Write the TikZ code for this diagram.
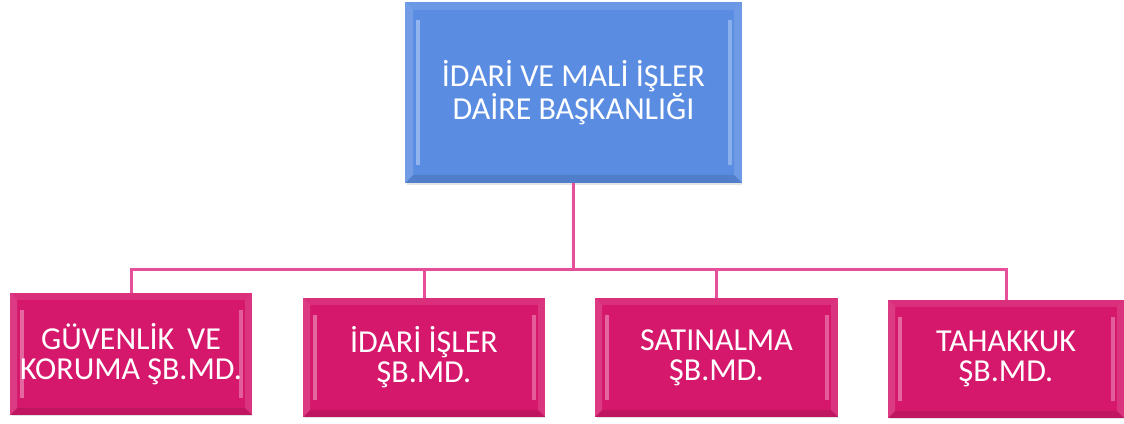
\documentclass[tikz,border=0pt]{standalone}
\usepackage{fontspec}
\setmainfont{Carlito}
\usetikzlibrary{calc}
\definecolor{topblue}{HTML}{5A8DE2}
\definecolor{boxpink}{HTML}{D6186D}
\definecolor{linepink}{HTML}{E84F9A}
\tikzset{
  bev/.style={
    path picture={
      \coordinate (nw) at (path picture bounding box.north west);
      \coordinate (se) at (path picture bounding box.south east);
      \coordinate (ne) at (path picture bounding box.north east);
      \coordinate (sw) at (path picture bounding box.south west);
      \fill[white,opacity=0.10] (nw) -- (ne) -- ($(ne)+(-#1,-#1)$) -- ($(nw)+(#1,-#1)$) -- cycle;
      \fill[black,opacity=0.10] (sw) -- (se) -- ($(se)+(-#1,#1)$) -- ($(sw)+(#1,#1)$) -- cycle;
      \fill[white,opacity=0.15] (nw) -- (sw) -- ($(sw)+(#1,#1)$) -- ($(nw)+(#1,-#1)$) -- cycle;
      \fill[white,opacity=0.12] (ne) -- (se) -- ($(se)+(-#1,#1)$) -- ($(ne)+(-#1,-#1)$) -- cycle;
      \fill[white,opacity=0.35] ($(nw)+(#1+3pt,-#1-10pt)$) rectangle ($(sw)+(#1+7pt,#1+10pt)$);
      \fill[white,opacity=0.30] ($(ne)+(-#1-6pt,-#1-10pt)$) rectangle ($(se)+(-#1-2pt,#1+10pt)$);
    }},
  boxbase/.style={draw=none, inner sep=0pt, text=white, align=center},
  topbox/.style={boxbase, fill=topblue, bev=8pt, minimum width=337pt, minimum height=181pt,
    font=\fontsize{32pt}{30pt}\selectfont},
  subbox/.style={boxbase, fill=boxpink, bev=7pt, minimum height=119pt,
    font=\fontsize{32pt}{30pt}\selectfont},
  conn/.style={draw=linepink, line width=3pt},
  shade/.style={fill=black!35, opacity=0.30}
}
\begin{document}
\begin{tikzpicture}[x=1pt,y=1pt]
\useasboundingbox[fill=white] (0,0) rectangle (1124,423);
% shadows
\fill[shade] (407,238) rectangle (742,242);
\fill[shade] (12,7) rectangle (252,10);
\fill[shade] (305,5) rectangle (545,8);
\fill[shade] (597,5) rectangle (838,8);
\fill[shade] (890,4) rectangle (1124,7);
\coordinate (bus) at (573,153);
\node[topbox] (top) at (573.5,330.5) {İDARİ VE MALİ İŞLER\\DAİRE BAŞKANLIĞI};
\node[subbox, minimum width=242pt, minimum height=122pt] (b1) at (131,69) {GÜVENLİK\hspace{0.4em}VE\\KORUMA ŞB.MD.};
\node[subbox, minimum width=242pt] (b2) at (424,65.5) {İDARİ İŞLER\\ŞB.MD.};
\node[subbox, minimum width=243pt] (b3) at (716.5,65.5) {SATINALMA\\ŞB.MD.};
\node[subbox, minimum width=236pt, minimum height=118pt] (b4) at (1006,64) {TAHAKKUK\\ŞB.MD.};
\draw[conn] (top.south) -- (top.south |- bus);
\draw[conn] (b1.north) |- (bus) -| (b4.north);
\draw[conn] (b2.north) -- (b2.north |- bus);
\draw[conn] (b3.north) -- (b3.north |- bus);
\end{tikzpicture}
\end{document}
